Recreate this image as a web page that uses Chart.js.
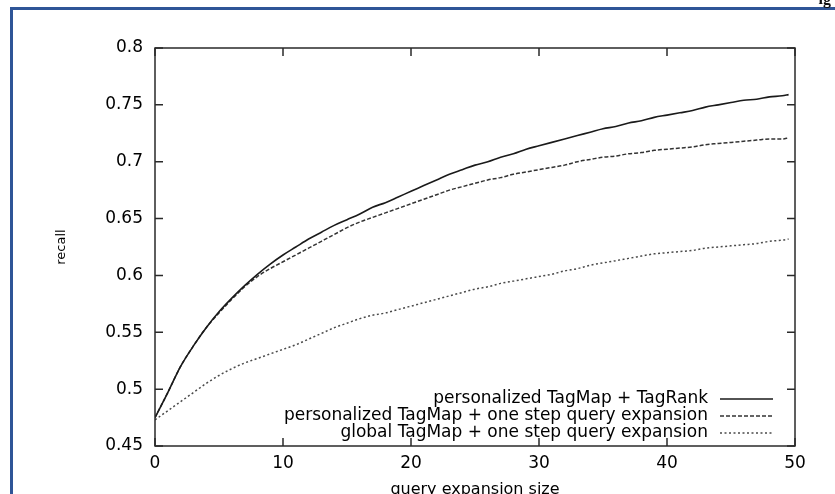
<!DOCTYPE html>
<html>
<head>
<meta charset="utf-8">
<script src="https://cdn.jsdelivr.net/npm/chart.js@4.4.1/dist/chart.umd.min.js"></script>
<style>
  html, body { margin: 0; padding: 0; background: #fff; overflow: hidden; width: 835px; height: 494px; }
  #wrap { position: relative; width: 835px; height: 494px; overflow: hidden; }
  #c { position: absolute; left: 0; top: 0; }
  #frame { position: absolute; left: 10px; top: 7px; width: 900px; height: 600px;
           border-left: 3px solid #2f5597; border-top: 3px solid #2f5597; pointer-events: none; }
  #corner { position: absolute; right: 4px; top: -10px; font: bold 16px "Liberation Serif", serif; color: #111; }
</style>
</head>
<body>
<div id="wrap">
  <canvas id="c" width="835" height="505"></canvas>
  <div id="frame"></div>
  <div id="corner">ig</div>
</div>
<script>
// --- DATA ---
const expansionSize = [0, 1, 2, 3, 4, 5, 6, 7, 8, 9, 10, 11, 12, 13, 14, 15, 16, 17, 18, 19,
  20, 21, 22, 23, 24, 25, 26, 27, 28, 29, 30, 31, 32, 33, 34, 35, 36, 37, 38, 39,
  40, 41, 42, 43, 44, 45, 46, 47, 48, 49, 49.5];

const tagRankRecall = [0.475, 0.497, 0.520, 0.538, 0.554, 0.568, 0.580, 0.591, 0.601, 0.610,
  0.618, 0.625, 0.632, 0.638, 0.644, 0.649, 0.654, 0.660, 0.664, 0.669,
  0.674, 0.679, 0.684, 0.689, 0.693, 0.697, 0.700, 0.704, 0.707, 0.711,
  0.714, 0.717, 0.720, 0.723, 0.726, 0.729, 0.731, 0.734, 0.736, 0.739,
  0.741, 0.743, 0.745, 0.748, 0.750, 0.752, 0.754, 0.755, 0.757, 0.758, 0.759];

const personalOneStepRecall = [0.475, 0.497, 0.520, 0.538, 0.554, 0.567, 0.579, 0.590, 0.599, 0.606,
  0.612, 0.618, 0.624, 0.630, 0.636, 0.642, 0.647, 0.651, 0.655, 0.659,
  0.663, 0.667, 0.671, 0.675, 0.678, 0.681, 0.684, 0.686, 0.689, 0.691,
  0.693, 0.695, 0.697, 0.700, 0.702, 0.704, 0.705, 0.707, 0.708, 0.710,
  0.711, 0.712, 0.713, 0.715, 0.716, 0.717, 0.718, 0.719, 0.720, 0.720, 0.721];

const globalOneStepRecall = [0.473, 0.481, 0.489, 0.497, 0.505, 0.512, 0.518, 0.523, 0.527, 0.531,
  0.535, 0.539, 0.544, 0.549, 0.554, 0.558, 0.562, 0.565, 0.567, 0.570,
  0.573, 0.576, 0.579, 0.582, 0.585, 0.588, 0.590, 0.593, 0.595, 0.597,
  0.599, 0.601, 0.604, 0.606, 0.609, 0.611, 0.613, 0.615, 0.617, 0.619,
  0.620, 0.621, 0.622, 0.624, 0.625, 0.626, 0.627, 0.628, 0.630, 0.631, 0.632];

const seriesLabels = [
  'personalized TagMap + TagRank',
  'personalized TagMap + one step query expansion',
  'global TagMap + one step query expansion'
];

const FONT = "'DejaVu Sans', sans-serif";

function pts(ys) {
  return ys.map((y, i) => ({ x: expansionSize[i], y: y }));
}

// box around the plot with inward ticks on all four sides
const frameTicks = {
  id: 'frameTicks',
  afterDatasetsDraw(chart) {
    const { ctx, chartArea: a, scales } = chart;
    const len = 8;
    ctx.save();
    ctx.strokeStyle = '#2a2a2a';
    ctx.lineWidth = 1.5;
    ctx.strokeRect(a.left, a.top, a.right - a.left, a.bottom - a.top);
    ctx.beginPath();
    scales.x.ticks.forEach(t => {
      const px = scales.x.getPixelForValue(t.value);
      ctx.moveTo(px, a.bottom); ctx.lineTo(px, a.bottom - len);
      ctx.moveTo(px, a.top); ctx.lineTo(px, a.top + len);
    });
    scales.y.ticks.forEach(t => {
      const py = scales.y.getPixelForValue(t.value);
      ctx.moveTo(a.left, py); ctx.lineTo(a.left + len, py);
      ctx.moveTo(a.right, py); ctx.lineTo(a.right - len, py);
    });
    ctx.stroke();
    ctx.restore();
  }
};

// gnuplot style key: right aligned text, line sample on the right
const keyLegend = {
  id: 'keyLegend',
  afterDraw(chart) {
    const { ctx, chartArea: a } = chart;
    ctx.save();
    ctx.font = '17px ' + FONT;
    ctx.textAlign = 'right';
    ctx.textBaseline = 'middle';
    chart.data.datasets.forEach((ds, i) => {
      const y = a.bottom - 47 + i * 17;
      ctx.fillStyle = '#000';
      ctx.fillText(ds.label, a.right - 87, y);
      ctx.beginPath();
      ctx.strokeStyle = ds.borderColor;
      ctx.lineWidth = ds.borderWidth;
      ctx.setLineDash(ds.borderDash || []);
      ctx.moveTo(a.right - 75, y);
      ctx.lineTo(a.right - 22, y);
      ctx.stroke();
    });
    ctx.restore();
  }
};

new Chart(document.getElementById('c'), {
  type: 'line',
  data: {
    datasets: [
      {
        label: seriesLabels[0],
        data: pts(tagRankRecall),
        borderColor: '#1a1a1a',
        borderWidth: 1.6,
        borderDash: []
      },
      {
        label: seriesLabels[1],
        data: pts(personalOneStepRecall),
        borderColor: '#333',
        borderWidth: 1.5,
        borderDash: [4, 2]
      },
      {
        label: seriesLabels[2],
        data: pts(globalOneStepRecall),
        borderColor: '#4a4a4a',
        borderWidth: 1.5,
        borderDash: [2, 2.5]
      }
    ]
  },
  options: {
    responsive: false,
    animation: false,
    devicePixelRatio: 1,
    layout: { padding: { top: 48, right: 40, left: 0, bottom: 0 } },
    elements: {
      point: { radius: 0 },
      line: { cubicInterpolationMode: 'monotone', fill: false }
    },
    scales: {
      x: {
        type: 'linear',
        min: 0,
        max: 50,
        border: { display: false },
        grid: { display: false, drawTicks: false },
        ticks: { stepSize: 10, padding: 7, color: '#000', font: { family: FONT, size: 17 } },
        title: {
          display: true,
          text: 'query expansion size',
          color: '#000',
          font: { family: FONT, size: 16 },
          padding: { top: 0, bottom: 6 }
        },
        afterFit(scale) { scale.height = 59; }
      },
      y: {
        min: 0.45,
        max: 0.8,
        border: { display: false },
        grid: { display: false, drawTicks: false },
        ticks: {
          stepSize: 0.05,
          padding: 12,
          color: '#000',
          font: { family: FONT, size: 17 },
          callback: v => String(Math.round(v * 100) / 100)
        },
        title: {
          display: true,
          text: 'recall',
          color: '#000',
          font: { family: FONT, size: 13 },
          padding: { top: 54, bottom: 0 }
        },
        afterFit(scale) { scale.width = 155; }
      }
    },
    plugins: {
      legend: { display: false },
      tooltip: { enabled: false }
    }
  },
  plugins: [frameTicks, keyLegend]
});
</script>
</body>
</html>
